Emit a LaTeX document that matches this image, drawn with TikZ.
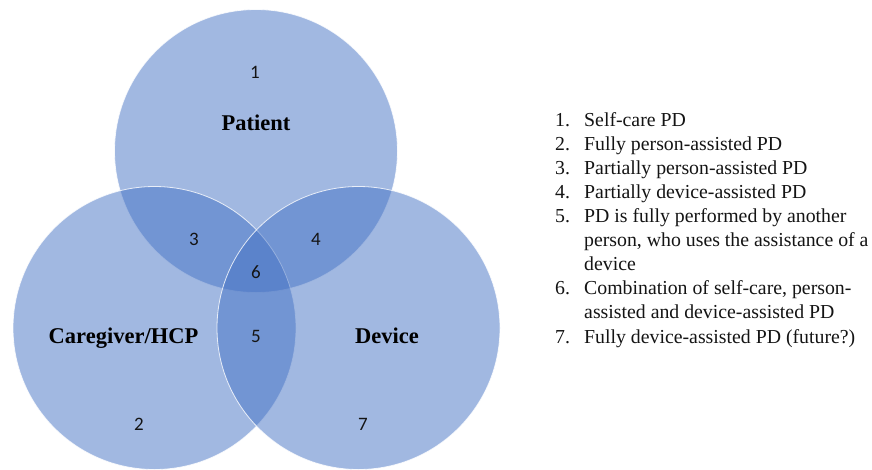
\documentclass[tikz,border=0pt]{standalone}
\usepackage{fontspec}
\setmainfont{Liberation Serif}
\newfontfamily\numfont{Carlito}
\definecolor{vennblue}{RGB}{68,114,196}
\definecolor{numgray}{RGB}{20,20,20}
\begin{document}
\begin{tikzpicture}[x=1pt,y=-1pt,
  venn/.style={circle, minimum size=283pt, inner sep=0pt, fill=vennblue, fill opacity=0.5, draw=white, draw opacity=0.8, line width=0.8pt},
  setlabel/.style={anchor=base, inner sep=0pt, font=\fontsize{22.5}{27}\selectfont\bfseries, text=black},
  regnum/.style={inner sep=0pt, font=\numfont\fontsize{19}{22}\selectfont, text=numgray},
  itemnum/.style={anchor=base west, inner sep=0pt, font=\fontsize{19.8}{24}\selectfont, text=numgray},
  itemtext/.style={anchor=base west, inner sep=0pt, font=\fontsize{19.8}{24}\selectfont, text=numgray}]
\useasboundingbox (0,0) rectangle (872,469);
% circles
\node[venn] (cpatient) at (256,151) {};
\node[venn] (ccare) at (154.5,328) {};
\node[venn] (cdevice) at (358.5,328) {};
% set labels
\node[setlabel] (lpatient) at (256,130) {Patient};
\node[setlabel] (lcare) at (123.5,343) {Caregiver/HCP};
\node[setlabel] (ldevice) at (387,343) {Device};
% region numbers
\node[regnum] (r1) at (255,72) {1};
\node[regnum] (r2) at (139,424) {2};
\node[regnum] (r3) at (194,239) {3};
\node[regnum] (r4) at (316,239) {4};
\node[regnum] (r5) at (256,336) {5};
\node[regnum] (r6) at (256,272) {6};
\node[regnum] (r7) at (363,424) {7};
% legend
\node[itemnum] (n1) at (555,126) {1.};
\node[itemtext] (t1) at (584,126) {Self-care PD};
\node[itemnum] (n2) at (555,150) {2.};
\node[itemtext] (t2) at (584,150) {Fully person-assisted PD};
\node[itemnum] (n3) at (555,174) {3.};
\node[itemtext] (t3) at (584,174) {Partially person-assisted PD};
\node[itemnum] (n4) at (555,198) {4.};
\node[itemtext] (t4) at (584,198) {Partially device-assisted PD};
\node[itemnum] (n5) at (555,222) {5.};
\node[itemtext] (t5a) at (584,222) {PD is fully performed by another};
\node[itemtext] (t5b) at (584,246) {person, who uses the assistance of a};
\node[itemtext] (t5c) at (584,270) {device};
\node[itemnum] (n6) at (555,294) {6.};
\node[itemtext] (t6a) at (584,294) {Combination of self-care, person-};
\node[itemtext] (t6b) at (584,318) {assisted and device-assisted PD};
\node[itemnum] (n7) at (555,343) {7.};
\node[itemtext] (t7) at (584,343) {Fully device-assisted PD (future?)};
\end{tikzpicture}
\end{document}
